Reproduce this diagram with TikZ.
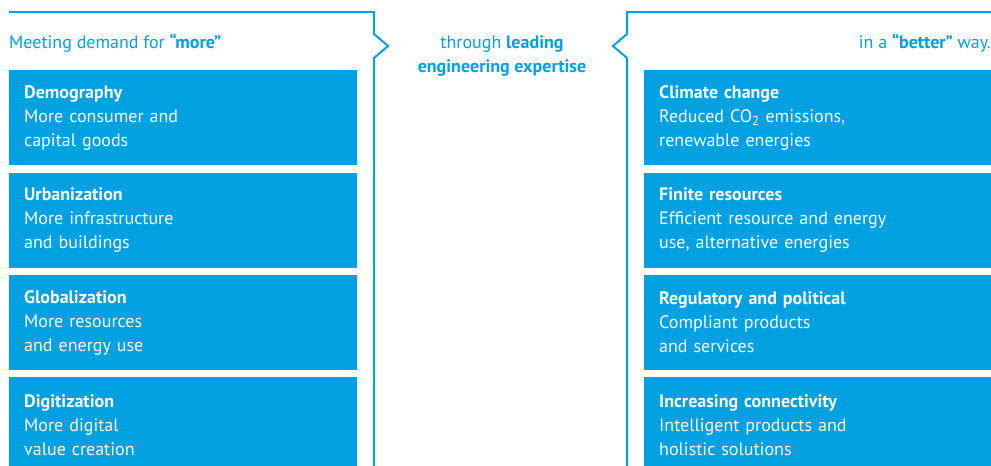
\documentclass[tikz,border=0pt]{standalone}
\usepackage{fontspec}
\setmainfont{PT Sans}
\usetikzlibrary{positioning}
\definecolor{dinblue}{HTML}{00A0E1}
\begin{document}
\begin{tikzpicture}[
  x=1pt, y=-1pt,
  node distance=7pt,
  every node/.style={font=\fontsize{18}{24}\selectfont},
  card/.style={fill=dinblue, text=white, anchor=north west, minimum width=348pt,
    minimum height=95pt, text width=318pt, align=left, inner xsep=15pt, inner ysep=0pt},
  headline/.style={text=dinblue, inner sep=0pt},
  bracket/.style={draw=dinblue, line width=2pt, line join=miter}
]
\useasboundingbox (0,0) rectangle (991,466);

% brackets
\draw[bracket] (9,12) -- (374,12) -- (374,34) -- (388,46) -- (374,58) -- (374,475);
\draw[bracket] (1000,12) -- (627,12) -- (627,34) -- (613,46) -- (627,58) -- (627,475);

% headings
\node[headline, anchor=base west] (more) at (9,48) {Meeting demand for \textbf{“more”}};
\node[headline, anchor=base, align=center] (lead) at (502,72)
  {through \textbf{leading}\\\textbf{engineering expertise}};
\node[headline, anchor=base east] (better) at (991,48) {in a \textbf{“better”} way.};

% left column
\node[card] (demo) at (9,70) {\textbf{Demography}\\More consumer and\\capital goods};
\node[card, below=of demo] (urban) {\textbf{Urbanization}\\More infrastructure\\and buildings};
\node[card, below=of urban] (global) {\textbf{Globalization}\\More resources\\and energy use};
\node[card, below=of global] (digital) {\textbf{Digitization}\\More digital\\value creation};

% right column
\node[card] (climate) at (644,70) {\textbf{Climate change}\\Reduced CO\textsubscript{2} emissions,\\renewable energies};
\node[card, below=of climate] (finite) {\textbf{Finite resources}\\Efficient resource and energy\\use, alternative energies};
\node[card, below=of finite] (regul) {\textbf{Regulatory and political}\\Compliant products\\and services};
\node[card, below=of regul] (connect) {\textbf{Increasing connectivity}\\Intelligent products and\\holistic solutions};
\end{tikzpicture}
\end{document}
